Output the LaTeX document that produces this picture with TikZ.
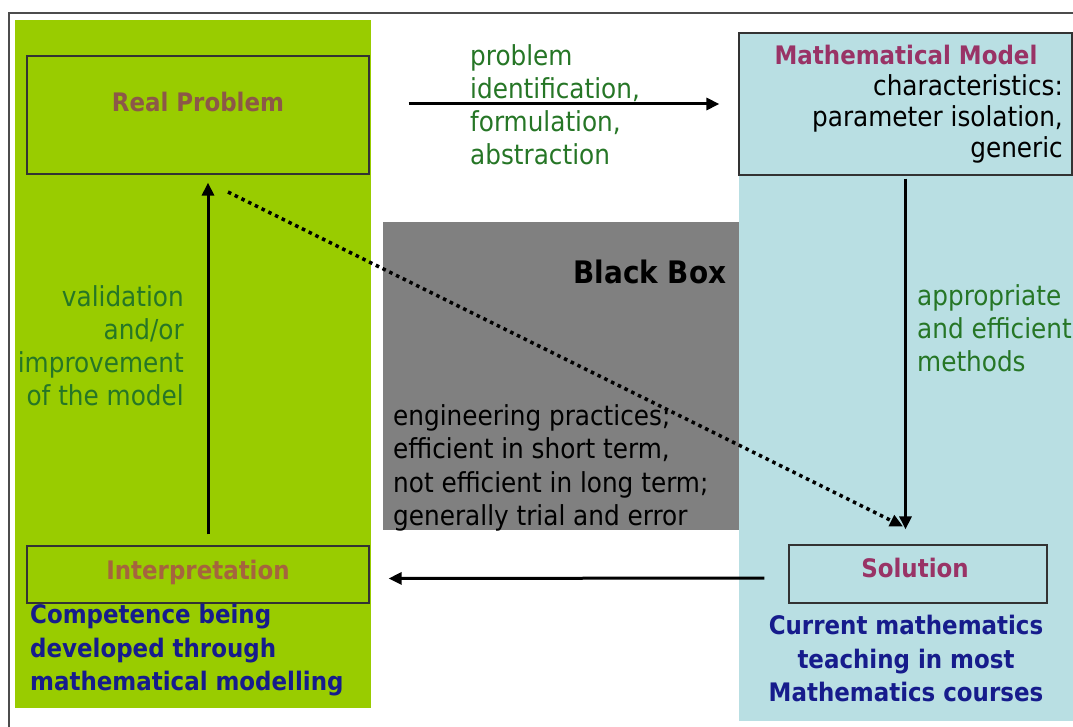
\documentclass[tikz,border=0pt]{standalone}
\usepackage{fontspec}
\setmainfont{DejaVu Sans Condensed}
\usetikzlibrary{calc, arrows.meta}

\definecolor{panelgreen}{RGB}{153,204,0}
\definecolor{panelblue}{RGB}{185,223,227}
\definecolor{boxgrey}{RGB}{128,128,128}
\definecolor{textgreen}{RGB}{38,118,38}
\definecolor{realbrown}{RGB}{140,88,72}
\definecolor{interbrown}{RGB}{165,100,62}
\definecolor{modelpurple}{RGB}{153,51,102}
\definecolor{textblue}{RGB}{22,28,140}

\begin{document}
\begin{tikzpicture}[x=1pt, y=-1pt,
  flow/.style={line width=3pt, -{Triangle[length=13pt,width=12pt]}},
  dotflow/.style={line width=3.5pt, dash pattern=on 3.5pt off 4pt, -{Triangle[length=13pt,width=12pt]}},
  stagebox/.style={draw=black!80, line width=1.2pt, inner sep=0pt},
  stagetitle/.style={font=\bfseries\fontsize{25.5}{30}\selectfont, text height=19pt, text depth=0pt, inner sep=0pt},
  notetxt/.style={font=\fontsize{27.5}{33}\selectfont, inner sep=0pt},
  compettxt/.style={font=\bfseries\fontsize{25.5}{33.5}\selectfont, textblue, inner sep=0pt}]

% 画布：1 pt = 1 像素，y 轴向下
\useasboundingbox (0,0) rectangle (1073,727);

% 外框（上边和左边）
\draw[black!70, line width=1.5pt] (1073,13) -- (9,13) -- (9,727);

% 左侧绿色区域、右侧浅蓝区域
\fill[panelgreen] (15,20) rectangle (371,708);
\fill[panelblue] (739,33) rectangle (1073,721);

% 中间灰色 Black Box
\fill[boxgrey] (383,222) rectangle (739,530);
\node[font=\bfseries\fontsize{31}{36}\selectfont, inner sep=0pt] (blackbox) at (650,272) {Black Box};

% 四个阶段框
\node[stagebox, minimum width=342pt, minimum height=118pt] (real) at (198,115) {};
\node[stagebox, minimum width=333pt, minimum height=142pt] (model) at (905.5,104) {};
\node[stagebox, minimum width=342pt, minimum height=57pt] (interp) at (198,574.5) {};
\node[stagebox, minimum width=258pt, minimum height=58pt] (sol) at (918,574) {};

% 阶段名称
\node[stagetitle, realbrown] (realtxt) at (198,102) {Real Problem};
\node[stagetitle, modelpurple] (modeltxt) at (906,55) {Mathematical Model};
\node[stagetitle, interbrown] (interptxt) at (198,570) {Interpretation};
\node[stagetitle, modelpurple] (soltxt) at (915,568) {Solution};

% 模型特征（右对齐）
\node[notetxt, font=\fontsize{27.5}{31}\selectfont, anchor=north east, align=right] (chartxt) at (1063,74)
  {characteristics:\\parameter isolation,\\generic};

% 四条主箭头
\draw[flow, shorten <=39pt, shorten >=19pt] (real.east |- model.west) -- (model.west);
\draw[flow, shorten <=3pt, shorten >=15pt] (model.south) -- (model.south |- sol.north);
\draw[flow, shorten <=24pt, shorten >=19pt] ([yshift=-4pt]sol.west) -- ([yshift=-4pt]interp.east);
\draw[flow, shorten <=11pt, shorten >=8pt] ([xshift=10pt]interp.north) -- ([xshift=10pt]real.south);

% 箭头说明（绿色）
\node[notetxt, textgreen, anchor=north west, align=left] (formtxt) at (470,44)
  {problem\\identification,\\formulation,\\abstraction};
\node[notetxt, textgreen, anchor=north east, align=right] (validtxt) at (184,285)
  {validation\\and/or\\improvement\\of the model};
\node[notetxt, textgreen, anchor=north west, align=left] (methtxt) at (917,284)
  {appropriate\\and efficient\\methods};

% Black Box 说明
\node[notetxt, font=\fontsize{27.5}{33.5}\selectfont, anchor=north west, align=left] (engtxt) at (393,404)
  {engineering practices;\\efficient in short term,\\not efficient in long term;\\generally trial and error};

% 捷径：虚线箭头 Real Problem -> Solution
\coordinate (dotA) at (228,192);
\draw[dotflow] (dotA) -- ([xshift=-15pt,yshift=18pt]sol.north);

% 底部蓝色说明
\node[compettxt, anchor=north west, align=left] (competL) at (30,604)
  {Competence being\\developed through\\mathematical modelling};
\node[compettxt, anchor=north, align=center] (competR) at (906,615)
  {Current mathematics\\teaching in most\\Mathematics courses};

\end{tikzpicture}
\end{document}
